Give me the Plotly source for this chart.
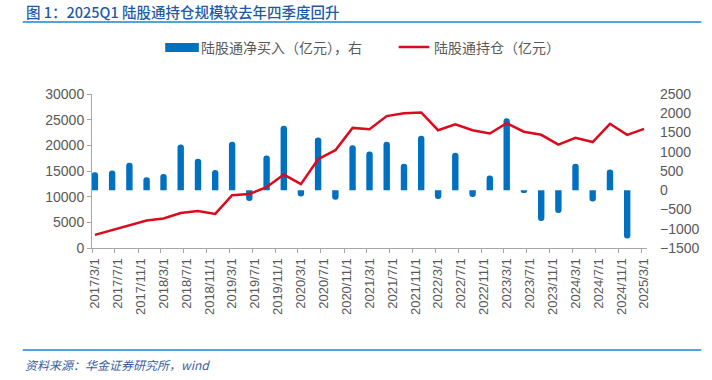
import plotly.graph_objects as go

# ---------------- data ----------------
DATES = [
    "2017-03-01", "2017-06-01", "2017-09-01", "2017-12-01",
    "2018-03-01", "2018-06-01", "2018-09-01", "2018-12-01",
    "2019-03-01", "2019-06-01", "2019-09-01", "2019-12-01",
    "2020-03-01", "2020-06-01", "2020-09-01", "2020-12-01",
    "2021-03-01", "2021-06-01", "2021-09-01", "2021-12-01",
    "2022-03-01", "2022-06-01", "2022-09-01", "2022-12-01",
    "2023-03-01", "2023-06-01", "2023-09-01", "2023-12-01",
    "2024-03-01", "2024-06-01", "2024-09-01", "2024-12-01",
    "2025-03-01",
]
NET_BUY = [
    470, 510, 715, 335, 420, 1190, 820, 525,
    1260, -280, 905, 1675, -165, 1370, -245, 1170,
    1005, 1260, 690, 1415, -230, 975, -175, 385,
    1870, -70, -800, -590, 690, -290, 540, -1250,
    None,
]
HOLDINGS = [
    2550, 3500, 4400, 5350, 5750, 6800, 7200, 6650,
    10300, 10500, 11850, 14300, 12450, 17300, 19050, 23400,
    23150, 25700, 26250, 26400, 22950, 24100, 22950, 22300,
    24300, 22650, 22050, 20150, 21450, 20650, 24200, 22050,
    23200,
]
X_TICK_DATES = [
    "2017-03-01", "2017-07-01", "2017-11-01", "2018-03-01", "2018-07-01",
    "2018-11-01", "2019-03-01", "2019-07-01", "2019-11-01", "2020-03-01",
    "2020-07-01", "2020-11-01", "2021-03-01", "2021-07-01", "2021-11-01",
    "2022-03-01", "2022-07-01", "2022-11-01", "2023-03-01", "2023-07-01",
    "2023-11-01", "2024-03-01", "2024-07-01", "2024-11-01", "2025-03-01",
]
X_TICK_LABELS = [
    "2017/3/1", "2017/7/1", "2017/11/1", "2018/3/1", "2018/7/1",
    "2018/11/1", "2019/3/1", "2019/7/1", "2019/11/1", "2020/3/1",
    "2020/7/1", "2020/11/1", "2021/3/1", "2021/7/1", "2021/11/1",
    "2022/3/1", "2022/7/1", "2022/11/1", "2023/3/1", "2023/7/1",
    "2023/11/1", "2024/3/1", "2024/7/1", "2024/11/1", "2025/3/1",
]
TITLE = "图 1：2025Q1 陆股通持仓规模较去年四季度回升"
SOURCE = "资料来源：华金证券研究所，wind"
BAR_NAME = "陆股通净买入（亿元），右"
LINE_NAME = "陆股通持仓（亿元）"

# ---------------- layout geometry ----------------
# the page body margin is removed by the post script, so figure px == screen px
W, H = 712, 380
PLOT_X0, PLOT_X1 = 92, 653
PLOT_Y0, PLOT_Y1 = 94, 248
L = PLOT_X0
T = PLOT_Y0
PW = PLOT_X1 - PLOT_X0
PH = PLOT_Y1 - PLOT_Y0
R = W - L - PW
B = H - T - PH


def px_x(px):
    return (px - PLOT_X0) / PW


def px_y(py):
    return (PLOT_Y1 - py) / PH


BLUE = "#0070c0"
RED = "#dc0a1e"
GRAY = "#595959"
AXIS = "#a6a6a6"
NUM_FONT = "Liberation Sans, Arial, sans-serif"
CJK_FONT = "Noto Sans CJK SC, sans-serif"

fig = go.Figure()
fig.add_trace(go.Bar(
    x=DATES, y=NET_BUY, name=BAR_NAME, yaxis="y",
    xperiod="M1", xperiodalignment="middle",
    width=34 * 86400000, marker=dict(color=BLUE, cornerradius=3, line=dict(width=0)),
    showlegend=False,
))
fig.add_trace(go.Scatter(
    x=DATES, y=HOLDINGS, name=LINE_NAME, yaxis="y2", mode="lines",
    xperiod="M1", xperiodalignment="middle",
    line=dict(color=RED, width=2.5), showlegend=False,
))

fig.update_layout(
    width=W, height=H,
    margin=dict(l=L, r=R, t=T, b=B, pad=0),
    paper_bgcolor="white", plot_bgcolor="white",
    xaxis=dict(
        type="date", range=["2017-03-01", "2025-04-01"],
        tickvals=X_TICK_DATES, ticktext=X_TICK_LABELS,
        tickangle=-90, ticks="outside", ticklen=4, tickcolor=AXIS,
        ticklabelshift=3,
        showline=True, linecolor=AXIS, linewidth=1,
        showgrid=False, zeroline=False,
        tickfont=dict(family=NUM_FONT, size=13, color=GRAY),
    ),
    yaxis=dict(
        side="right", range=[-1500, 2500], dtick=500, tick0=0,
        showgrid=False, zeroline=False, showline=False, ticks="",
        ticklabelstandoff=12, tickformat="d",
        tickfont=dict(family=NUM_FONT, size=14, color=GRAY),
    ),
    yaxis2=dict(
        side="left", overlaying="y", range=[0, 30000], dtick=5000, tick0=0,
        showgrid=False, zeroline=False, showline=True, linecolor=AXIS,
        ticks="outside", ticklen=4, tickcolor=AXIS, tickformat="d",
        tickfont=dict(family=NUM_FONT, size=14, color=GRAY),
    ),
    showlegend=False,
)

shapes = [
    dict(type="line", xref="paper", yref="paper", x0=px_x(22), x1=px_x(708),
         y0=px_y(22), y1=px_y(22), line=dict(color="#1a86d0", width=1.5)),
    dict(type="line", xref="paper", yref="paper", x0=px_x(22), x1=px_x(708),
         y0=px_y(350), y1=px_y(350), line=dict(color="#1a86d0", width=1.5)),
    dict(type="rect", xref="paper", yref="paper", x0=px_x(166), x1=px_x(200),
         y0=px_y(52), y1=px_y(43), fillcolor=BLUE, line=dict(width=0)),
    dict(type="line", xref="paper", yref="paper", x0=px_x(402), x1=px_x(433),
         y0=px_y(47), y1=px_y(47), line=dict(color=RED, width=2.5)),
]
annotations = [
    dict(text=TITLE, xref="paper", yref="paper", x=px_x(23), y=px_y(11),
         xanchor="left", yanchor="middle", showarrow=False,
         font=dict(family=CJK_FONT, size=14.5, color="#1f5aa6", weight=500)),
    dict(text=BAR_NAME, xref="paper", yref="paper", x=px_x(200), y=px_y(47),
         xanchor="left", yanchor="middle", showarrow=False,
         font=dict(family=CJK_FONT, size=14, color=GRAY)),
    dict(text=LINE_NAME, xref="paper", yref="paper", x=px_x(436), y=px_y(47),
         xanchor="left", yanchor="middle", showarrow=False,
         font=dict(family=CJK_FONT, size=14, color=GRAY)),
    dict(text="<i>" + SOURCE + "</i>", xref="paper", yref="paper", x=px_x(22), y=px_y(364),
         xanchor="left", yanchor="middle", showarrow=False,
         font=dict(family=CJK_FONT, size=12, color="#3a5da0")),
]
fig.update_layout(shapes=shapes, annotations=annotations)

fig.write_html("out.html", config={"displayModeBar": False},
               post_script="document.body.style.margin='0';")
